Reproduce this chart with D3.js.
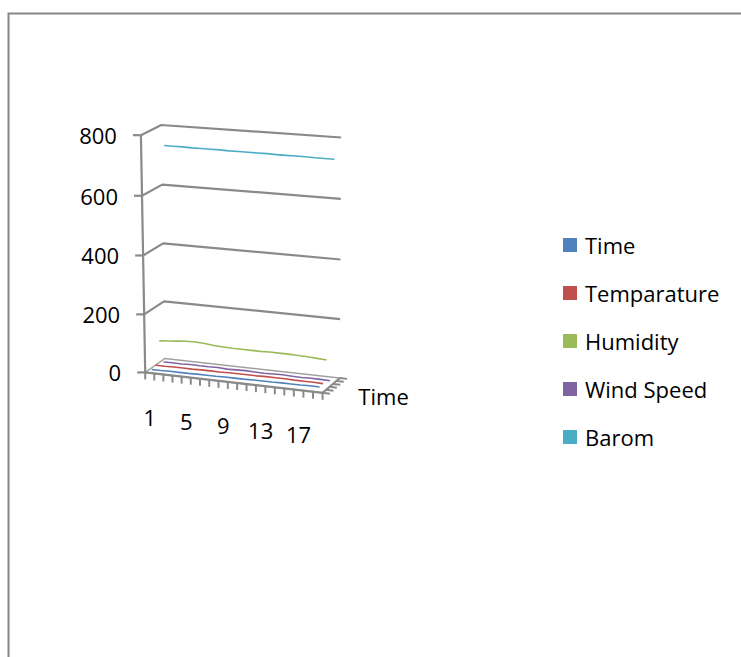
<!DOCTYPE html>
<html>
<head>
<meta charset="utf-8">
<script src="https://cdn.jsdelivr.net/npm/d3@7/dist/d3.min.js"></script>
<style>
  body { margin: 0; background: #fff; }
  text { font-family: "Open Sans", "Liberation Sans", sans-serif; fill: #000; }
</style>
</head>
<body>
<svg id="chart" width="741" height="657"></svg>
<script>
// ---- data ----
const categories = ["1","2","3","4","5","6","7","8","9","10","11","12","13","14","15","16","17","18","19"];
const seriesNames = ["Time", "Temparature", "Humidity", "Wind Speed", "Barom"];
const timeValues     = [7, 7, 8, 8, 8, 9, 9, 9, 10, 10, 10, 11, 11, 11, 12, 12, 12, 13, 13];
const tempValues     = [12, 12, 13, 13, 13, 14, 14, 14, 15, 15, 15, 15, 16, 16, 16, 15, 15, 15, 14];
const humidityValues = [87, 90, 93, 96, 97, 95, 92, 90, 89, 89, 89, 89, 90, 90, 90, 89, 88, 86, 84];
const windValues     = [4, 5, 4, 6, 5, 5, 6, 4, 5, 6, 5, 4, 5, 6, 5, 4, 5, 5, 4];
const baromValues    = [736, 736, 736, 735, 735, 735, 735, 734, 734, 734, 734, 734, 733, 733, 733, 733, 732, 732, 732];
const valueTicks = [0, 200, 400, 600, 800];
const categoryLabels = ["1", "5", "9", "13", "17"];
const seriesColors = ["#4F81BD", "#C0504D", "#9BBB59", "#8064A2", "#4BACC6"];

const seriesValues = [timeValues, tempValues, humidityValues, windValues, baromValues];

// ---- 3D view: box coordinates (u across categories, v up, w into depth), all in [0,1] ----
// Screen positions of reference points of the plot box, used to fit a perspective camera.
const viewAnchors = [
  [[0, 0, 0], [146, 373]], [[0, 0.25, 0], [144, 315]], [[0, 0.5, 0], [143, 256]],
  [[0, 0.75, 0], [142, 196]], [[0, 1, 0], [141, 134]],
  [[0, 0, 1], [164, 357]], [[0, 0.25, 1], [163, 301]], [[0, 0.5, 1], [163, 244]],
  [[0, 0.75, 1], [163, 185]], [[0, 1, 1], [162, 125]],
  [[1, 0, 1], [342, 378]], [[1, 0.25, 1], [340, 320]], [[1, 0.5, 1], [340, 260]],
  [[1, 0.75, 1], [340, 199]], [[1, 1, 1], [341, 137]],
  [[1, 0, 0], [322, 392]]
];

// Direct linear transform: least-squares 3x4 projection matrix (last entry fixed to 1)
function fitProjection(pairs) {
  const rows = [], rhs = [];
  pairs.forEach(([[X, Y, Z], [x, y]]) => {
    rows.push([X, Y, Z, 1, 0, 0, 0, 0, -x * X, -x * Y, -x * Z]); rhs.push(x);
    rows.push([0, 0, 0, 0, X, Y, Z, 1, -y * X, -y * Y, -y * Z]); rhs.push(y);
  });
  const n = 11;
  const M = Array.from({ length: n }, () => new Array(n + 1).fill(0));
  rows.forEach((r, k) => {
    for (let i = 0; i < n; i++) {
      for (let j = 0; j < n; j++) M[i][j] += r[i] * r[j];
      M[i][n] += r[i] * rhs[k];
    }
  });
  for (let c = 0; c < n; c++) {
    let piv = c;
    for (let r = c + 1; r < n; r++) if (Math.abs(M[r][c]) > Math.abs(M[piv][c])) piv = r;
    [M[c], M[piv]] = [M[piv], M[c]];
    for (let r = 0; r < n; r++) {
      if (r === c) continue;
      const f = M[r][c] / M[c][c];
      for (let j = c; j <= n; j++) M[r][j] -= f * M[c][j];
    }
  }
  return M.map((row, i) => row[n] / row[i]);
}
const P = fitProjection(viewAnchors);
function project(u, v, w) {
  const d = P[8] * u + P[9] * v + P[10] * w + 1;
  return [(P[0] * u + P[1] * v + P[2] * w + P[3]) / d,
          (P[4] * u + P[5] * v + P[6] * w + P[7]) / d];
}

// ---- scales ----
const xBand = d3.scaleBand().domain(categories).range([0, 1]);
const vScale = d3.scaleLinear().domain([0, 800]).range([0, 1]);
const zBand = d3.scaleBand().domain(seriesNames).range([0, 1]);
const uCenter = c => xBand(c) + xBand.bandwidth() / 2;
const wCenter = s => zBand(s) + zBand.bandwidth() / 2;

const svg = d3.select("#chart");
const line = d3.line();
const gridColor = "#8a8a8a";

// chart area border
svg.append("rect")
  .attr("x", 8.5).attr("y", 13.5).attr("width", 800).attr("height", 700)
  .attr("fill", "none").attr("stroke", "#868686").attr("stroke-width", 2);

// wall gridlines: side wall (u=0) then back wall (w=1)
const grid = svg.append("g").attr("fill", "none").attr("stroke", gridColor)
  .attr("stroke-width", 2.2).attr("stroke-linejoin", "round");
valueTicks.filter(t => t > 0).forEach(t => {
  const v = vScale(t);
  grid.append("path").attr("d", line([project(0, v, 0), project(0, v, 1), project(1, v, 1)]));
});

// floor
const floor = svg.append("g");
const floorTop = [project(0, 0, 0), project(1, 0, 0), project(1, 0, 1), project(0, 0, 1)];
floor.append("path").attr("d", line(floorTop) + "Z")
  .attr("fill", "#fff").attr("stroke", "#a0a0a0").attr("stroke-width", 1.5);

// category ticks hanging from the front edge
const catTicks = d3.range(categories.length + 1).map(k => k / categories.length);
floor.append("path")
  .attr("d", line([project(0, 0, 0), project(1, 0, 0)]))
  .attr("stroke", gridColor).attr("stroke-width", 2.2).attr("fill", "none");
floor.selectAll("line.ctick").data(catTicks).join("line")
  .attr("class", "ctick")
  .attr("x1", u => project(u, 0, 0)[0]).attr("y1", u => project(u, 0, 0)[1])
  .attr("x2", u => project(u, 0, 0)[0]).attr("y2", u => project(u, 0, 0)[1] + 7)
  .attr("stroke", gridColor).attr("stroke-width", 2);

// depth (series) axis ticks on the right edge of the floor
const depthTicks = d3.range(seriesNames.length + 1).map(k => k / seriesNames.length);
floor.append("path")
  .attr("d", line([project(1, 0, 0), project(1, 0, 1)]))
  .attr("stroke", gridColor).attr("stroke-width", 2).attr("fill", "none");
floor.selectAll("line.dtick").data(depthTicks).join("line")
  .attr("class", "dtick")
  .attr("x1", w => project(1, 0, w)[0]).attr("y1", w => project(1, 0, w)[1])
  .attr("x2", w => project(1.04, 0, w)[0]).attr("y2", w => project(1.04, 0, w)[1])
  .attr("stroke", gridColor).attr("stroke-width", 2);

// series lines, back to front
const seriesG = svg.append("g").attr("fill", "none").attr("stroke-width", 1.6);
seriesNames.map((name, i) => ({ name, i })).reverse().forEach(({ name, i }) => {
  const w = wCenter(name);
  const pts = categories.map((c, j) => project(uCenter(c), vScale(seriesValues[i][j]), w));
  seriesG.append("path").attr("d", line(pts)).attr("stroke", seriesColors[i]);
});

// value axis on the front-left edge
const axisG = svg.append("g").attr("stroke", gridColor).attr("stroke-width", 2.2);
axisG.append("path").attr("fill", "none")
  .attr("d", line([project(0, 0, 0), project(0, 1, 0)]));
valueTicks.forEach(t => {
  const [x, y] = project(0, vScale(t), 0);
  axisG.append("line").attr("x1", x).attr("y1", y).attr("x2", x - 8).attr("y2", y);
});

// value labels
svg.append("g").selectAll("text").data(valueTicks).join("text")
  .attr("x", t => project(0, vScale(t), 0)[0] - 24)
  .attr("y", t => project(0, vScale(t), 0)[1])
  .attr("text-anchor", "end").attr("dominant-baseline", "central")
  .style("font-size", "22px")
  .text(t => t);

// category labels
svg.append("g").selectAll("text").data(categoryLabels).join("text")
  .attr("x", c => project(uCenter(c), 0, 0)[0])
  .attr("y", c => project(uCenter(c), 0, 0)[1] + 44)
  .attr("text-anchor", "middle").attr("dominant-baseline", "central")
  .style("font-size", "22px")
  .text(c => c);

// depth axis label for the front series
{
  const [x, y] = project(1, 0, wCenter(seriesNames[0]));
  svg.append("text").attr("x", x + 34).attr("y", y + 5)
    .attr("dominant-baseline", "central").style("font-size", "22px")
    .text(seriesNames[0]);
}

// legend
const legend = svg.append("g").attr("transform", "translate(563,245)");
const rows = legend.selectAll("g").data(seriesNames).join("g")
  .attr("transform", (d, i) => `translate(0,${i * 48})`);
rows.append("rect").attr("x", 0).attr("y", -7).attr("width", 14).attr("height", 14)
  .attr("fill", (d, i) => seriesColors[i]);
rows.append("text").attr("x", 22).attr("y", 0).attr("dominant-baseline", "central")
  .style("font-size", "22px").text(d => d);
</script>
</body>
</html>
